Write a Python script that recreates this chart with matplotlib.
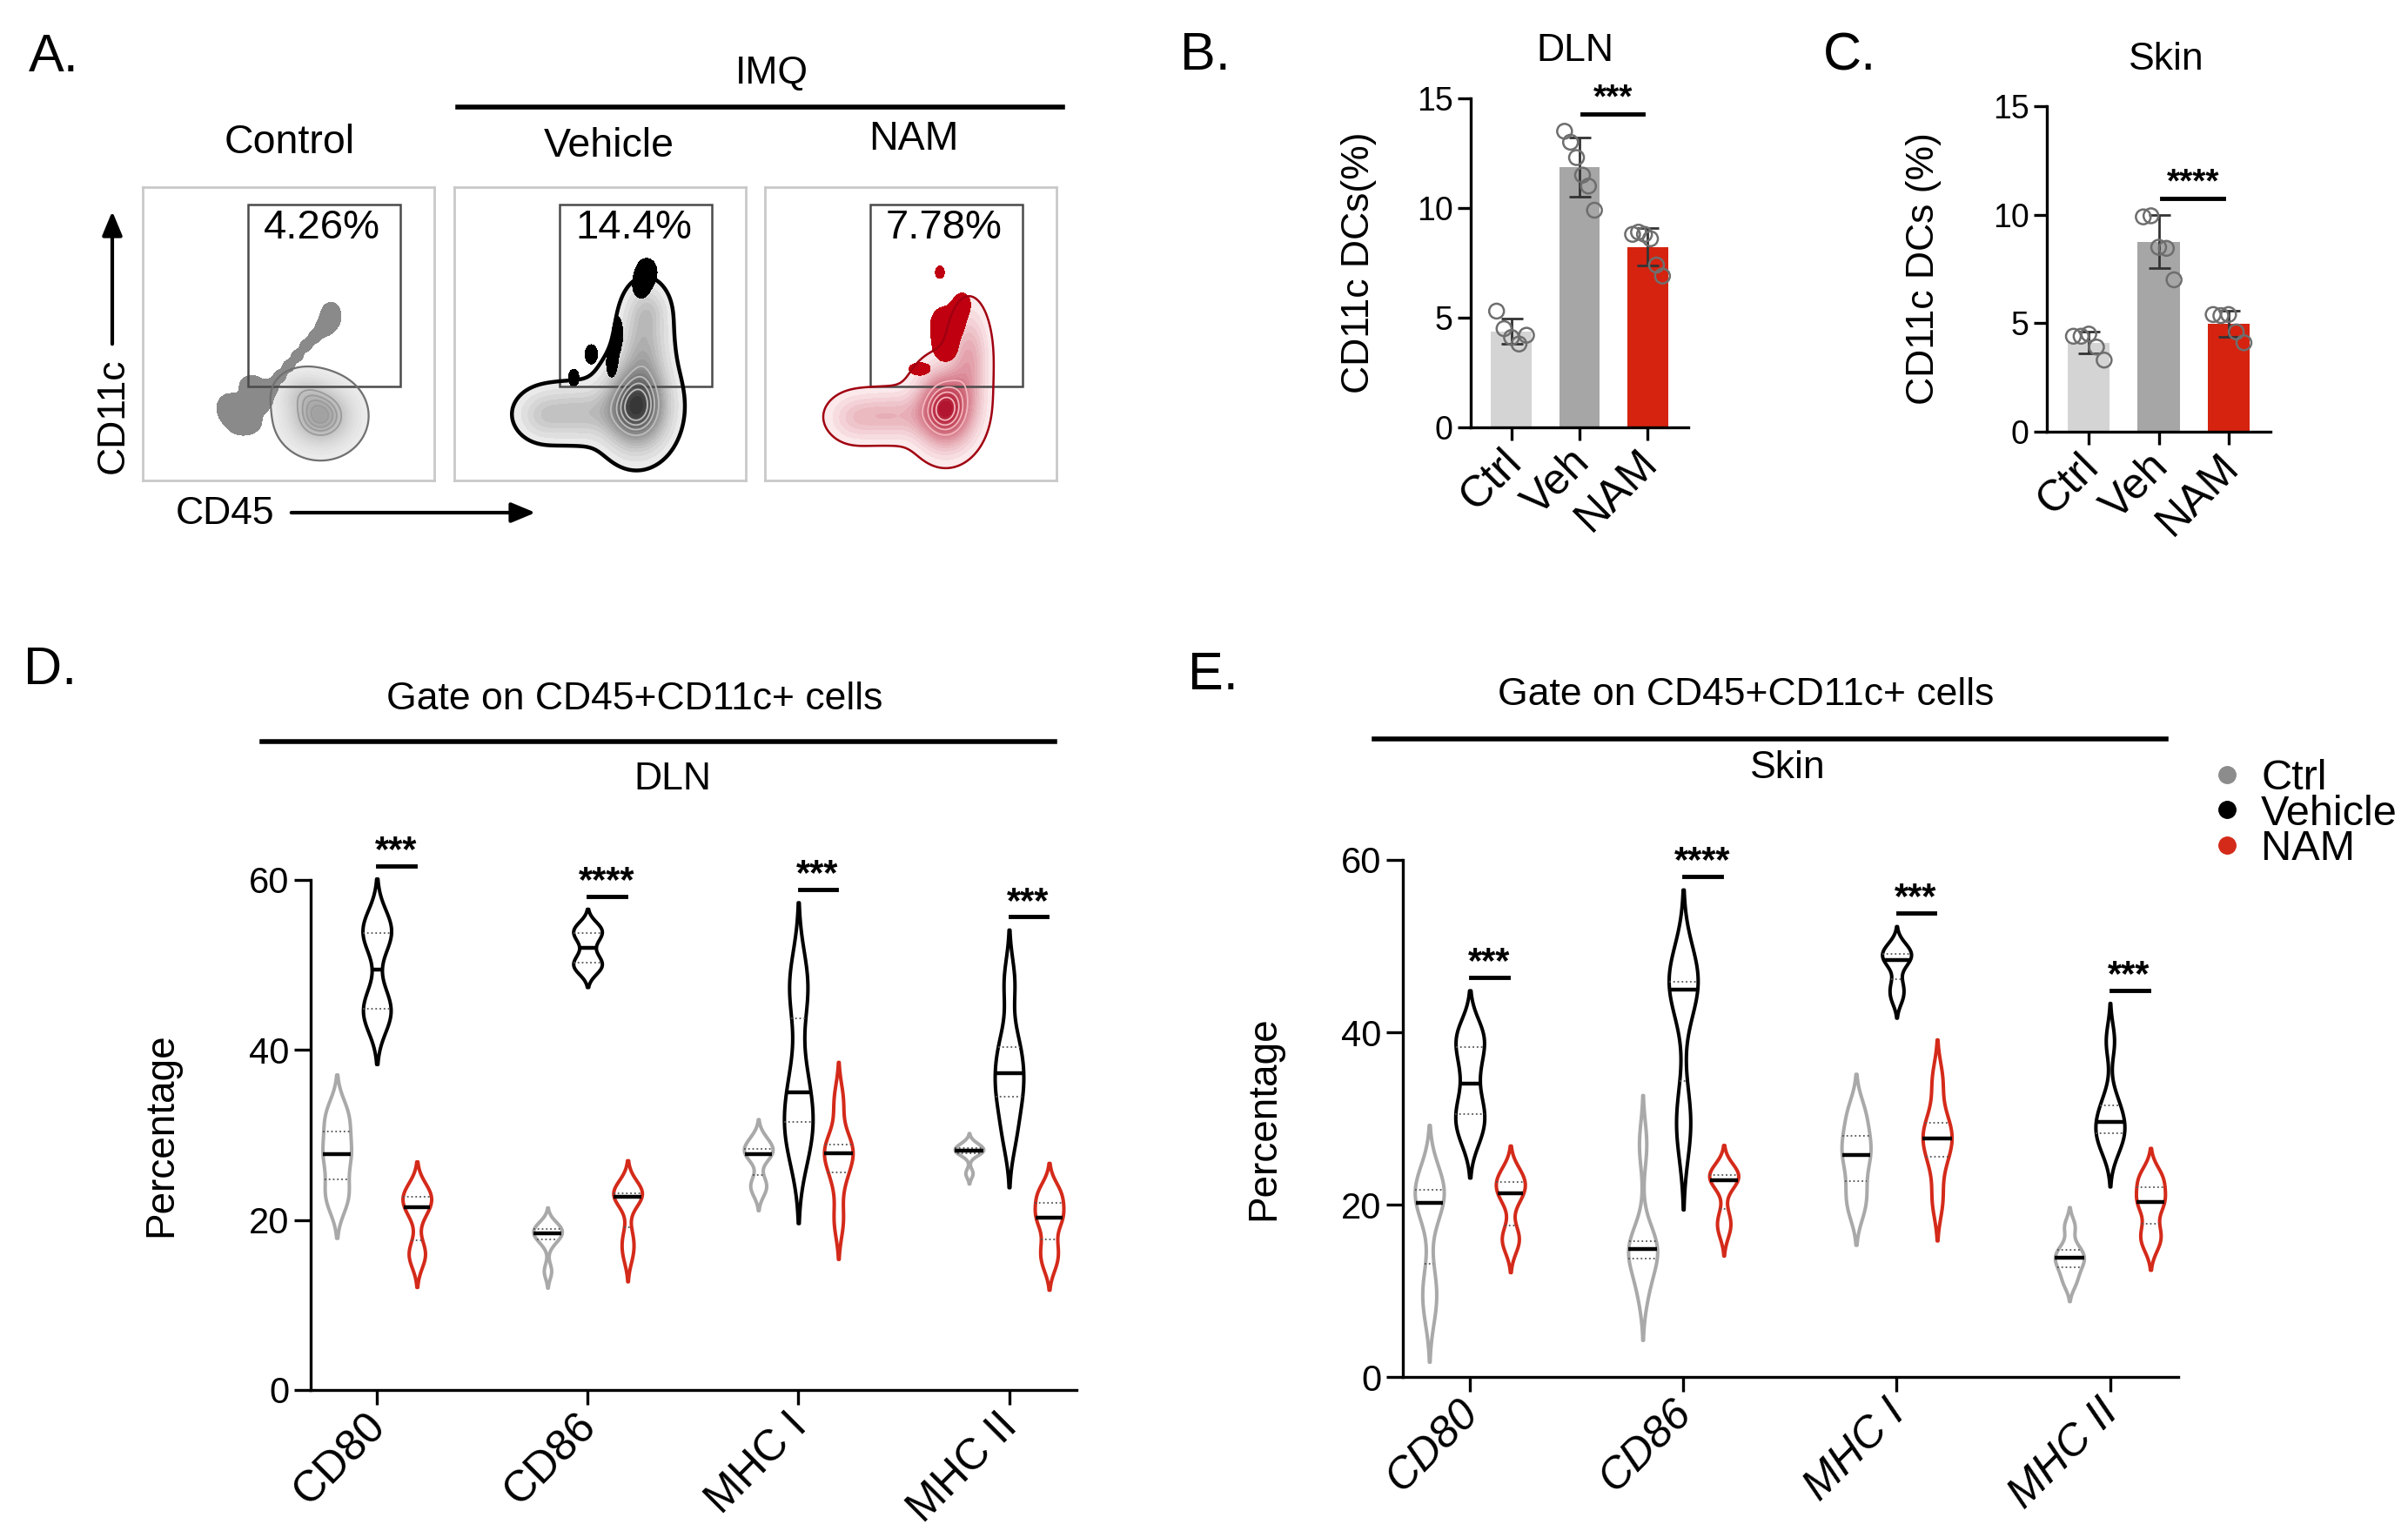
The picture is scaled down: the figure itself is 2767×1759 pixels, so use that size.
import numpy as np
import matplotlib
matplotlib.use("Agg")
import matplotlib.pyplot as plt
import matplotlib.transforms as mtransforms
from matplotlib.colors import LinearSegmentedColormap
from matplotlib.lines import Line2D
from matplotlib.patches import Rectangle, FancyArrowPatch

plt.rcParams['font.family'] = ['Liberation Sans', 'DejaVu Sans']

W, H = 2767, 1759

# ---------------- data ----------------
groups = ["Ctrl", "Vehicle", "NAM"]
group_colors = ["#a9a9a9", "#000000", "#d42a1a"]

# panel A: flow plots
flow_titles = ["Control", "Vehicle", "NAM"]
flow_pct = ["4.26%", "14.4%", "7.78%"]
# main density blobs (x, y, sx, sy, weight)
body_ctrl = [(0.61, 0.22, 0.065, 0.06, 1.0),
             (0.55, 0.30, 0.05, 0.04, 0.3)]
body_veh = [(0.625, 0.25, 0.065, 0.085, 1.0),
            (0.42, 0.23, 0.10, 0.055, 0.3),
            (0.30, 0.22, 0.05, 0.05, 0.12),
            (0.65, 0.45, 0.05, 0.11, 0.35),
            (0.665, 0.58, 0.04, 0.05, 0.15)]
body_nam = [(0.62, 0.245, 0.06, 0.08, 1.0),
            (0.42, 0.22, 0.10, 0.05, 0.3),
            (0.30, 0.21, 0.05, 0.05, 0.1),
            (0.70, 0.42, 0.04, 0.10, 0.35)]
# low-density (outlier) patches (x, y, sx, sy)
out_ctrl = [(0.40, 0.28, 0.04, 0.04), (0.33, 0.22, 0.04, 0.045), (0.29, 0.25, 0.025, 0.03),
            (0.37, 0.33, 0.025, 0.02), (0.36, 0.19, 0.03, 0.02),
            (0.44, 0.32, 0.016, 0.016), (0.47, 0.355, 0.016, 0.016), (0.50, 0.39, 0.016, 0.016),
            (0.53, 0.425, 0.016, 0.016), (0.56, 0.46, 0.016, 0.016), (0.59, 0.49, 0.016, 0.016),
            (0.62, 0.52, 0.018, 0.018), (0.645, 0.56, 0.03, 0.04)]
out_veh = [(0.66, 0.71, 0.03, 0.04), (0.64, 0.66, 0.02, 0.03), (0.56, 0.50, 0.015, 0.05),
           (0.54, 0.40, 0.015, 0.04), (0.47, 0.43, 0.018, 0.028), (0.41, 0.35, 0.015, 0.025)]
out_nam = [(0.61, 0.53, 0.035, 0.05), (0.62, 0.45, 0.03, 0.035), (0.68, 0.60, 0.02, 0.03),
           (0.60, 0.71, 0.013, 0.018), (0.53, 0.38, 0.03, 0.018), (0.66, 0.55, 0.02, 0.04)]
gate = (0.36, 0.32, 0.525, 0.62)  # x, y, w, h

# panels B / C: CD11c DCs (%) per mouse
bar_labels = ["Ctrl", "Veh", "NAM"]
bar_colors = ["#d4d4d4", "#a6a6a6", "#d5230f"]
dln_dc = [[5.3, 4.5, 4.1, 3.8, 4.2],
          [13.5, 13.0, 12.3, 11.5, 11.0, 9.9],
          [8.8, 8.9, 8.8, 8.6, 7.4, 6.9]]
skin_dc = [[4.4, 4.4, 4.5, 3.9, 3.3],
           [9.9, 9.95, 8.5, 8.45, 7.0],
           [5.4, 5.35, 5.4, 4.6, 4.1]]

# panels D / E: percentage per marker (CD80, CD86, MHC I, MHC II)
markers = ["CD80", "CD86", "MHC I", "MHC II"]
dln_ctrl = [[22, 24, 27, 28.5, 31, 33],
            [14, 17.5, 18.2, 18.6, 19, 19.5],
            [23.5, 24.5, 27.5, 28, 28.5, 29.5],
            [25.5, 27.8, 28.1, 28.3, 28.5, 29]]
dln_veh = [[43.5, 44.5, 46, 53, 54, 55],
           [49.5, 50, 51, 53, 54, 54.5],
           [28, 31, 33, 37, 46, 49],
           [30, 34, 36, 38.5, 41, 48]]
dln_nam = [[15.5, 16.5, 21, 22, 23, 23.5],
           [16, 18, 22.5, 23, 23.2, 23.8],
           [20, 25, 27.5, 28.3, 29, 34],
           [15, 17, 20, 20.6, 22.5, 23.5]]
skin_ctrl = [[8, 11, 19.5, 20.9, 22, 23],
             [10, 13.5, 14.5, 15.1, 16, 27],
             [19.5, 22, 25, 26.5, 28.5, 31],
             [11, 12.5, 13.5, 14.1, 15, 17.5]]
skin_veh = [[28, 30, 32, 36, 39, 40],
            [28, 31, 44.5, 45.5, 46, 48],
            [44, 45.5, 48, 48.8, 49.2, 50],
            [26.5, 28, 29, 30.2, 32, 39]]
skin_nam = [[15.5, 16.5, 21, 21.6, 23, 23.5],
            [17, 18.5, 22.5, 23.2, 23.5, 24],
            [20.5, 25, 27.3, 28.1, 30, 34.5],
            [15.5, 17, 20, 20.6, 22.5, 23.5]]
dln_stars = ["***", "****", "***", "***"]
skin_stars = ["***", "****", "***", "***"]


def fx(px):
    return px / W


def fy(py):
    return 1 - py / H


def px_axes(l, t, r, b):
    return fig.add_axes([fx(l), fy(b), (r - l) / W, (b - t) / H])


def shift_xlabels(ax, dx_px):
    off = mtransforms.ScaledTranslation(dx_px / 100, 0, fig.dpi_scale_trans)
    for lab in ax.get_xticklabels():
        lab.set_transform(lab.get_transform() + off)


fig = plt.figure(figsize=(W / 100, H / 100), dpi=100)

# ---------------- panel A ----------------
body_sets = [body_ctrl, body_veh, body_nam]
out_sets = [out_ctrl, out_veh, out_nam]
band_cols = ["#8a8a8a", "#000000", "#c00010"]
edge_cols = ["#707070", "#000000", "#a00010"]
edge_lw = [1.6, 3.2, 1.8]
cmaps = [LinearSegmentedColormap.from_list("c", ["#ececec", "#a0a0a0"]),
         LinearSegmentedColormap.from_list("v", ["#eeeeee", "#333333"]),
         LinearSegmentedColormap.from_list("n", ["#fdeef0", "#b0102a"])]
ring_cols = ["#9a9a9a", "#bdbdbd", "#f3b5bd"]
box_left = [164, 522, 879]
title_xy = [(333, 164), (700, 168), (1050, 160)]

gx = np.linspace(0, 1, 500)
X, Y = np.meshgrid(gx, gx)
for k in range(3):
    ax = px_axes(box_left[k], 215, box_left[k] + 335, 552)
    Z = np.zeros_like(X)
    for (x0, y0, sx, sy, w) in body_sets[k]:
        Z += w * np.exp(-0.5 * (((X - x0) / sx) ** 2 + ((Y - y0) / sy) ** 2))
    t1 = 0.04
    ax.contourf(X, Y, Z, levels=np.linspace(t1, Z.max(), 20), cmap=cmaps[k])
    ax.contour(X, Y, Z, levels=[t1], colors=[edge_cols[k]], linewidths=edge_lw[k])
    Zo = np.zeros_like(X)
    for (x0, y0, sx, sy) in out_sets[k]:
        Zo += np.exp(-0.5 * (((X - x0) / sx) ** 2 + ((Y - y0) / sy) ** 2))
    ax.contourf(X, Y, Zo, levels=[0.5, Zo.max() + 1], colors=[band_cols[k]])
    ax.contour(X, Y, Z, levels=[0.55, 0.7, 0.82, 0.93], colors=ring_cols[k], linewidths=1.3)
    ax.add_patch(Rectangle(gate[:2], gate[2], gate[3], fill=False, ec="#4a4a4a", lw=1.8))
    ax.text(0.615, 0.86, flow_pct[k], ha="center", va="center", fontsize=34)
    ax.set_xlim(0, 1)
    ax.set_ylim(0, 1)
    ax.set_xticks([])
    ax.set_yticks([])
    for s in ax.spines.values():
        s.set_color("#c9c9c9")
        s.set_linewidth(2)
    fig.text(fx(title_xy[k][0]), fy(title_xy[k][1]), flow_titles[k], ha="center", va="center", fontsize=33.5)

fig.text(fx(62), fy(67), "A.", ha="center", va="center", fontsize=44)
fig.text(fx(887), fy(85), "IMQ", ha="center", va="center", fontsize=32)
fig.add_artist(Line2D([fx(526), fx(1221)], [fy(123), fy(123)], color="black", lw=4))
fig.text(fx(130), fy(478), "CD11c", rotation=90, ha="center", va="center", fontsize=32)
fig.text(fx(259), fy(591), "CD45", ha="center", va="center", fontsize=32)
fig.add_artist(FancyArrowPatch((fx(129), fy(398)), (fx(129), fy(240)),
               transform=fig.transFigure, arrowstyle="-|>,head_length=1.2,head_width=0.5",
               mutation_scale=14, color="black", lw=3))
fig.add_artist(FancyArrowPatch((fx(332), fy(589)), (fx(618), fy(589)),
               transform=fig.transFigure, arrowstyle="-|>,head_length=1.2,head_width=0.5",
               mutation_scale=14, color="black", lw=3))


# ---------------- panels B, C ----------------
def bar_panel(ax, data, stars, ylabel, label_x):
    x = np.arange(len(data))
    means = [np.mean(d) for d in data]
    sds = [np.std(d, ddof=1) for d in data]
    ax.bar(x, means, width=0.6, color=bar_colors, zorder=1)
    ax.errorbar(x, means, yerr=sds, fmt="none", ecolor="#333333", elinewidth=2,
                capsize=9, capthick=2, zorder=3)
    for i, d in enumerate(data):
        off = np.linspace(-0.22, 0.22, len(d))
        ax.scatter(i + off, d, s=150, facecolors="none", edgecolors="#6e6e6e",
                   linewidths=1.8, zorder=4, clip_on=False)
    top = max(data[1]) + 0.8
    ax.plot([1.04, 1.93], [top, top], color="black", lw=3.5, clip_on=False)
    ax.text(1.5, top + 0.3, stars, ha="center", va="baseline", fontsize=28, fontweight="bold")
    ax.set_xlim(-0.6, 2.6)
    ax.set_ylim(0, 15)
    ax.set_yticks([0, 5, 10, 15])
    ax.set_xticks(x)
    ax.set_xticklabels(bar_labels, rotation=45, ha="right", va="top",
                       rotation_mode="anchor", fontsize=36)
    ax.tick_params(axis="y", labelsize=27, length=11, width=2.4)
    ax.tick_params(axis="x", length=11, width=2.4, pad=1)
    ax.set_ylabel(ylabel, fontsize=32)
    ax.yaxis.set_label_coords(label_x, 0.5)
    for s in ["top", "right"]:
        ax.spines[s].set_visible(False)
    for s in ["left", "bottom"]:
        ax.spines[s].set_linewidth(2.4)
    shift_xlabels(ax, -12)


axB = px_axes(1690, 113, 1940, 491)
bar_panel(axB, dln_dc, "***", "CD11c DCs(%)", -0.43)
axC = px_axes(2352, 122, 2609, 496)
bar_panel(axC, skin_dc, "****", "CD11c DCs (%)", -0.47)
fig.text(fx(1385), fy(65), "B.", ha="center", va="center", fontsize=44)
fig.text(fx(2126), fy(65), "C.", ha="center", va="center", fontsize=44)
fig.text(fx(1810), fy(58), "DLN", ha="center", va="center", fontsize=32)
fig.text(fx(2489), fy(68), "Skin", ha="center", va="center", fontsize=32)


# ---------------- panels D, E ----------------
def violin_panel(ax, ctrl, veh, nam, stars, italic, label_x):
    sets = [ctrl, veh, nam]
    offs = [-0.19, 0.0, 0.19]
    for i in range(len(markers)):
        veh_top = 0
        for g in range(3):
            vals = np.asarray(sets[g][i], float)
            pos = i + offs[g]
            h = 0.45 * vals.std(ddof=1)
            grid = np.linspace(vals.min() - 2.2 * h, vals.max() + 2.2 * h, 400)
            dens = np.exp(-0.5 * ((grid[:, None] - vals[None, :]) / h) ** 2).sum(axis=1)
            dens = dens / dens.max() * 0.068
            ax.fill_betweenx(grid, pos - dens, pos + dens, facecolor="white",
                             edgecolor=group_colors[g], lw=2.9, zorder=3, clip_on=False)
            q1, med, q3 = np.percentile(vals, [25, 50, 75])
            for q in (q1, q3):
                w = np.interp(q, grid, dens)
                ax.plot([pos - w, pos + w], [q, q], ls=":", lw=1.3, color="#555555", zorder=4)
            w = np.interp(med, grid, dens)
            ax.plot([pos - w, pos + w], [med, med], lw=3.2, color="black", zorder=4,
                    solid_capstyle="butt")
            if g == 1:
                veh_top = grid[-1]
        y = veh_top + 1.5
        ax.plot([i + 0.005, i + 0.18], [y, y], color="black", lw=3.5, clip_on=False)
        ax.text(i + 0.09, y + 0.6, stars[i], ha="center", va="baseline", fontsize=30,
                fontweight="bold", clip_on=False)
    ax.set_xlim(-0.314, 3.32)
    ax.set_ylim(0, 60)
    ax.set_yticks([0, 20, 40, 60])
    ax.set_xticks(range(len(markers)))
    ax.set_xticklabels(markers, rotation=45, ha="right", va="top", rotation_mode="anchor",
                       fontsize=36, style="italic" if italic else "normal")
    ax.tick_params(axis="y", labelsize=30, length=14, width=2.4)
    ax.tick_params(axis="x", length=12, width=2.4, pad=1)
    ax.set_ylabel("Percentage", fontsize=33)
    ax.yaxis.set_label_coords(label_x, 0.5)
    for s in ["top", "right"]:
        ax.spines[s].set_visible(False)
    for s in ["left", "bottom"]:
        ax.spines[s].set_linewidth(2.4)
    shift_xlabels(ax, -14)


axD = px_axes(357, 1011, 1237, 1597)
violin_panel(axD, dln_ctrl, dln_veh, dln_nam, dln_stars, False, -0.17)
axE = px_axes(1612, 988, 2503, 1582)
violin_panel(axE, skin_ctrl, skin_veh, skin_nam, skin_stars, True, -0.155)

fig.text(fx(58), fy(771), "D.", ha="center", va="center", fontsize=44)
fig.text(fx(729), fy(803), "Gate on CD45+CD11c+ cells", ha="center", va="center", fontsize=32)
fig.add_artist(Line2D([fx(301), fx(1212)], [fy(852), fy(852)], color="black", lw=4))
fig.text(fx(773), fy(895), "DLN", ha="center", va="center", fontsize=32)

fig.text(fx(1394), fy(776), "E.", ha="center", va="center", fontsize=44)
fig.text(fx(2006), fy(798), "Gate on CD45+CD11c+ cells", ha="center", va="center", fontsize=32)
fig.add_artist(Line2D([fx(1579), fx(2489)], [fy(849), fy(849)], color="black", lw=4))
fig.text(fx(2054), fy(882), "Skin", ha="center", va="center", fontsize=32)

legend_cols = ["#8c8c8c", "#000000", "#d42a1a"]
handles = [Line2D([], [], ls="", marker="o", markersize=14, color=c) for c in legend_cols]
fig.legend(handles, groups, loc="center left", bbox_to_anchor=(fx(2535), fy(935)),
           frameon=False, fontsize=35, labelspacing=-0.1, handletextpad=0.3,
           handlelength=1.0, borderpad=0, borderaxespad=0)

fig.savefig("out.png", dpi=100)
